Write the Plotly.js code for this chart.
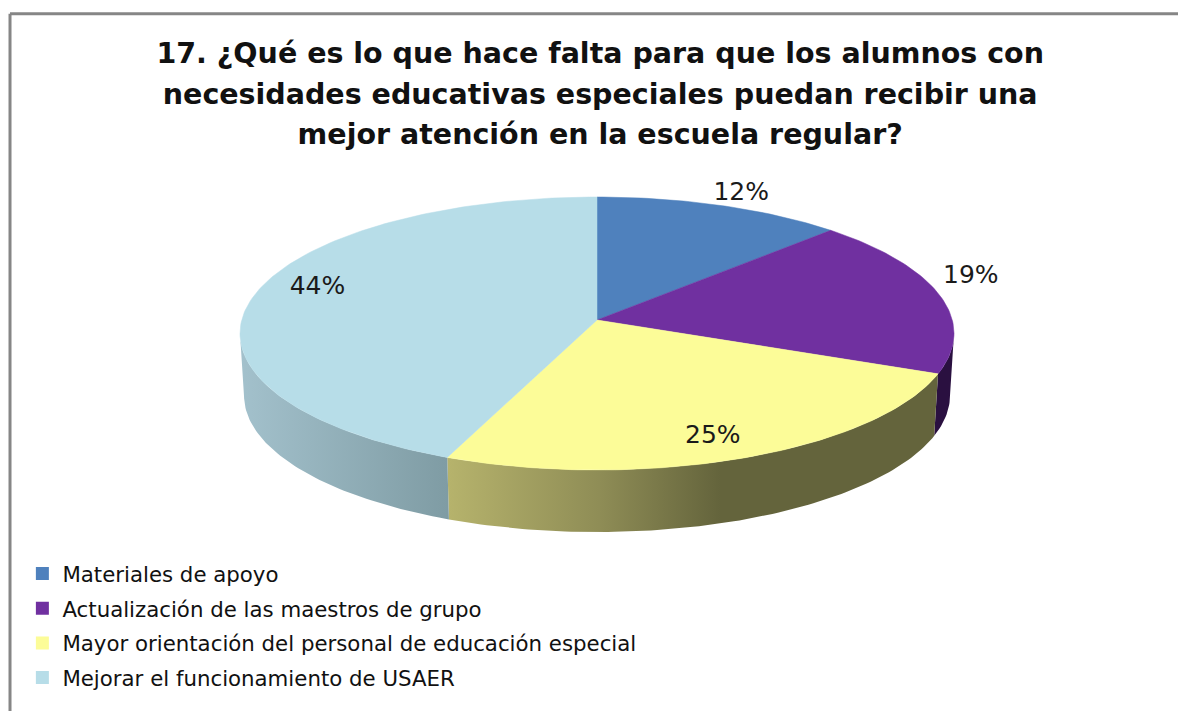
<!DOCTYPE html>
<html>
<head>
<meta charset="utf-8">
<script src="https://cdn.plot.ly/plotly-3.0.1.min.js"></script>
<style>html,body{margin:0;padding:0;background:#fff}</style>
</head>
<body>
<div id="chart" style="width:1178px;height:711px"></div>
<script>
const categories = ["Materiales de apoyo","Actualización de las maestros de grupo","Mayor orientación del personal de educación especial","Mejorar el funcionamiento de USAER"];
const percentValues = [12,19,25,44];
const pctLabels = ["12%","19%","25%","44%"];
const faceColors = ["#4f81bd","#7030a0","#fcfc98","#b7dde8"];
const titleLines = ["17. ¿Qué es lo que hace falta para que los alumnos con","necesidades educativas especiales puedan recibir una","mejor atención en la escuela regular?"];

// tilted-disc geometry (screen pixels on hidden axes)
const cx=597, apexY=320, ellipseY=333.5, rx=357, ry=136.5, depth=62, rxBottom=353;
// perspective correction of the slice end angles, degrees
const perspectiveDeg=[-2.3,-4.4,3.2,0];
const labelRadius=[1.09,1.07,0.81,0.80], labelDy=[-3,-26,4,-23], labelDx=[1,1,1,1];
const sideGradients=[
  null,
  {start:934,stop:953,colorscale:[[0,"#2a1040"],[1,"#2a1040"]]},
  {start:448,stop:934,colorscale:[[0,"#b6b36c"],[0.31,"#8f8d56"],[0.56,"#64643c"],[1,"#64643c"]]},
  {start:240,stop:447,colorscale:[[0,"#a3c1cc"],[1,"#7f9ca4"]]}
];
const rad=d=>d*Math.PI/180;
function pt(d,rX){return [cx+rX*Math.sin(rad(d)), ellipseY-ry*Math.cos(rad(d))];}
function range(a,b){const o=[];for(let d=a;d<b;d+=1)o.push(d);o.push(b);return o;}

const traces=[];
let cum=0;
const rawBounds=percentValues.map(v=>{const a=cum*3.6;cum+=v;return [a,cum*3.6];});
const bounds=rawBounds.map(([a,b],i)=>[a+(i?perspectiveDeg[i-1]:0), b+perspectiveDeg[i]]);

// sides
bounds.forEach(([a,b],i)=>{
  const s=Math.max(a,90), e=Math.min(b,270);
  if(e<=s) return;
  const top=range(s,e).map(d=>pt(d,rx));
  const bot=range(s,e).reverse().map(d=>{const p=pt(d,rxBottom);return [p[0],p[1]+depth];});
  const poly=top.concat(bot);poly.push(top[0]);
  traces.push({type:"scatter",mode:"lines",x:poly.map(p=>p[0]),y:poly.map(p=>p[1]),
    fill:"toself",line:{width:0},fillgradient:Object.assign({type:"horizontal"},sideGradients[i]),
    showlegend:false,hoverinfo:"skip"});
});
// top faces
bounds.forEach(([a,b],i)=>{
  const poly=[[cx,apexY]].concat(range(a,b).map(d=>pt(d,rx)));poly.push([cx,apexY]);
  traces.push({type:"scatter",mode:"lines",x:poly.map(p=>p[0]),y:poly.map(p=>p[1]),
    fill:"toself",fillcolor:faceColors[i],line:{width:0.5,color:faceColors[i]},
    showlegend:false,name:categories[i],hoverinfo:"name"});
});
// percentage labels
const lp=rawBounds.map(([a,b],i)=>{const m=(a+b)/2,p=pt(m,rx);
  return [cx+(p[0]-cx)*labelRadius[i]+labelDx[i], apexY+(p[1]-apexY)*labelRadius[i]+labelDy[i]];});
traces.push({type:"scatter",mode:"text",x:lp.map(p=>p[0]),y:lp.map(p=>p[1]),text:pctLabels,
  textposition:"middle center",textfont:{family:"DejaVu Sans",size:25,color:"#1a1a1a"},
  showlegend:false,hoverinfo:"skip"});
// legend entries
categories.forEach((c,i)=>traces.push({type:"scatter",mode:"markers",x:[null],y:[null],name:c,
  legendgroup:"g"+i,marker:{symbol:"square",size:13,color:faceColors[i]}}));

const layout={
  width:1178,height:711,margin:{l:0,r:0,t:0,b:0},
  paper_bgcolor:"#fff",plot_bgcolor:"#fff",
  title:{text:titleLines.map(t=>'<span style="font-size:28.5px">'+t+'</span>').join("<br>"),
    font:{family:"DejaVu Sans",size:31,color:"#111",weight:700},
    x:0.5095,xanchor:"center",y:0.9108,yanchor:"top"},
  xaxis:{range:[0,1178],visible:false,fixedrange:true},
  yaxis:{range:[711,0],visible:false,fixedrange:true},
  showlegend:true,
  legend:{x:0.019,xanchor:"left",y:0.222,yanchor:"top",traceorder:"grouped",tracegroupgap:4,
    font:{family:"DejaVu Sans",size:21.3,color:"#111"},bgcolor:"rgba(0,0,0,0)",itemwidth:30},
  shapes:[
    {type:"line",xref:"paper",yref:"paper",x0:0.0085,x1:1,y0:0.9805,y1:0.9805,line:{color:"#868686",width:3}},
    {type:"line",xref:"paper",yref:"paper",x0:0.0085,x1:0.0085,y0:0,y1:0.9805,line:{color:"#868686",width:3}}
  ]
};
Plotly.newPlot("chart",traces,layout,{displayModeBar:false});
</script>
</body>
</html>
